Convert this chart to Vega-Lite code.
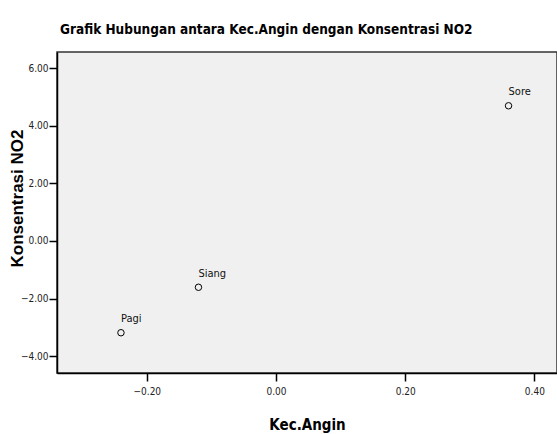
{
  "$schema": "https://vega.github.io/schema/vega-lite/v6.json",
  "autosize": {"type": "none"},
  "padding": {"left": 57, "top": 52, "right": 0, "bottom": 61},
  "width": 500,
  "height": 321,
  "background": "white",
  "title": {
    "text": "Grafik Hubungan antara Kec.Angin dengan Konsentrasi NO2",
    "font": "'DejaVu Sans Condensed', 'Liberation Sans', sans-serif",
    "fontSize": 13.5,
    "fontWeight": "bold",
    "color": "black",
    "anchor": "start",
    "frame": "group",
    "dx": 3,
    "baseline": "alphabetic",
    "offset": 5
  },
  "config": {
    "view": {"fill": "#F0F0F0", "stroke": "#333333", "strokeWidth": 1.5},
    "axis": {
      "grid": false,
      "domainColor": "black",
      "domainWidth": 1.5,
      "tickColor": "black",
      "tickWidth": 1.5,
      "tickSize": 8,
      "labelFont": "'DejaVu Sans Condensed', 'Liberation Sans', sans-serif",
      "labelFontSize": 10,
      "labelColor": "#222222",
      "titleColor": "black",
      "titleFontWeight": "bold"
    }
  },
  "data": {
    "values": [
      {"kec": -0.24, "no2": -3.19, "label": "Pagi"},
      {"kec": -0.12, "no2": -1.61, "label": "Siang"},
      {"kec": 0.36, "no2": 4.70, "label": "Sore"}
    ]
  },
  "encoding": {
    "x": {
      "field": "kec",
      "type": "quantitative",
      "scale": {"domain": [-0.339, 0.435], "nice": false, "zero": false},
      "axis": {
        "title": "Kec.Angin",
        "values": [-0.2, 0, 0.2, 0.4],
        "format": ".2f",
        "labelPadding": 5,
        "titleFont": "'DejaVu Sans Condensed', 'Liberation Sans', sans-serif",
        "titleFontSize": 15,
        "titleY": 56,
        "titleBaseline": "alphabetic"
      }
    },
    "y": {
      "field": "no2",
      "type": "quantitative",
      "scale": {"domain": [-4.59, 6.57], "nice": false, "zero": false},
      "axis": {
        "title": "Konsentrasi NO2",
        "values": [-4, -2, 0, 2, 4, 6],
        "format": ".2f",
        "labelPadding": 1,
        "titleFont": "Liberation Sans",
        "titleFontSize": 17,
        "titleX": -40,
        "titleY": 146,
        "titleBaseline": "middle",
        "titleAlign": "center",
        "titleAngle": 270
      }
    }
  },
  "layer": [
    {
      "mark": {"type": "point", "shape": "circle", "filled": false, "stroke": "black", "strokeWidth": 1, "size": 42, "opacity": 1}
    },
    {
      "mark": {"type": "text", "align": "left", "baseline": "alphabetic", "dx": 0, "dy": -10.5, "font": "'DejaVu Sans Condensed', 'Liberation Sans', sans-serif", "fontSize": 11, "color": "#111111"},
      "encoding": {"text": {"field": "label", "type": "nominal"}}
    }
  ]
}
